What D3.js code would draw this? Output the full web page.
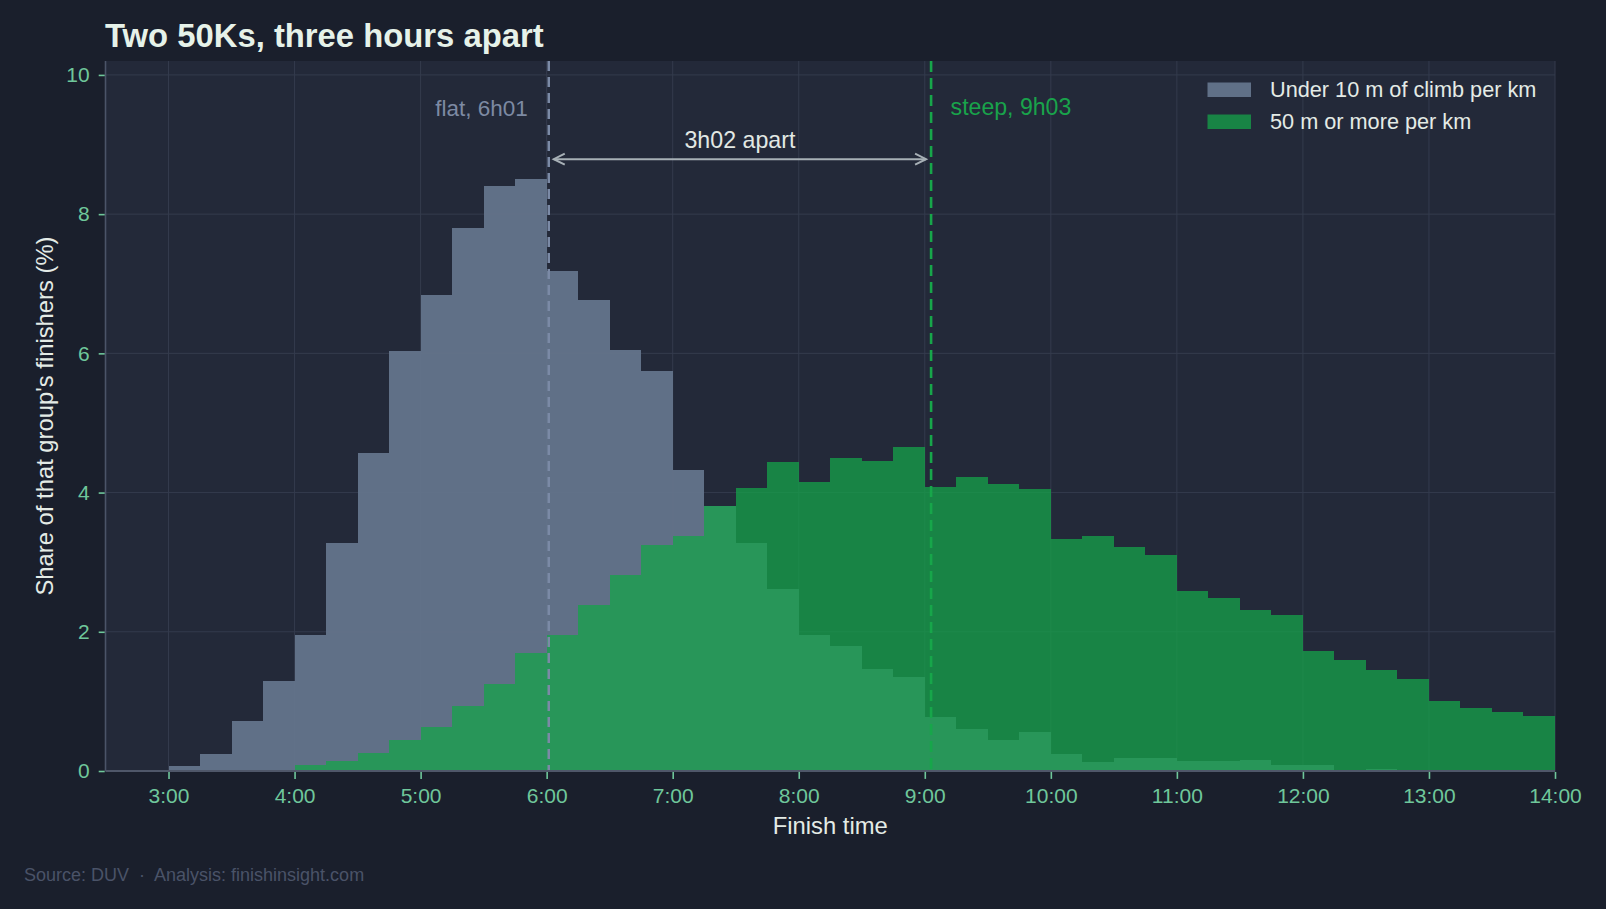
<!DOCTYPE html>
<html><head><meta charset="utf-8">
<script src="https://cdn.jsdelivr.net/npm/d3@7"></script>
<style>
html,body{margin:0;padding:0;background:#1a1f2c;}
svg{display:block;font-family:"Liberation Sans",Arial,Helvetica,sans-serif;}
</style></head><body>
<svg id="chart" width="1606" height="909"></svg>
<script>
// ---- data ----
const binStarts = ["3:00","3:15","3:30","3:45","4:00","4:15","4:30","4:45","5:00","5:15","5:30","5:45",
  "6:00","6:15","6:30","6:45","7:00","7:15","7:30","7:45","8:00","8:15","8:30","8:45",
  "9:00","9:15","9:30","9:45","10:00","10:15","10:30","10:45","11:00","11:15","11:30","11:45",
  "12:00","12:15","12:30","12:45","13:00","13:15","13:30","13:45"];
const flatShare = [0.07,0.25,0.72,1.29,1.96,3.27,4.57,6.04,6.84,7.80,8.41,8.51,
  7.18,6.77,6.05,5.74,4.32,3.81,3.28,2.62,1.96,1.79,1.47,1.35,
  0.77,0.61,0.44,0.56,0.25,0.13,0.19,0.18,0.15,0.15,0.16,0.09,
  0.09,0,0.03,0,0,0,0,0];
const steepShare = [0,0,0,0.02,0.08,0.14,0.26,0.45,0.63,0.93,1.25,1.70,
  1.96,2.38,2.81,3.25,3.38,3.81,4.07,4.44,4.15,4.49,4.45,4.65,
  4.08,4.22,4.12,4.05,3.34,3.38,3.22,3.10,2.59,2.49,2.31,2.24,
  1.72,1.59,1.45,1.32,1.01,0.91,0.85,0.79];
const xTickLabels = ["3:00","4:00","5:00","6:00","7:00","8:00","9:00","10:00","11:00","12:00","13:00","14:00"];
const yTicks = [0,2,4,6,8,10];
const seriesNames = ["Under 10 m of climb per km","50 m or more per km"];
const medians = ["6:01","9:03"];
const medianLabels = ["flat, 6h01","steep, 9h03"];
const gapLabel = "3h02 apart";
const gapLabelValue = 8.79;
const binHours = 0.25;

// ---- helpers ----
const toH = s => { const [h,m] = s.split(":").map(Number); return h + m/60; };

const W = 1606, H = 909;
const M = {left:105.5, right:1555, top:61, bottom:771};
const x = d3.scaleLinear().domain([2.5,14]).range([M.left, M.right]);
const y = d3.scaleLinear().domain([0,10.2]).range([M.bottom, M.top]);

const C = {
  bg:"#1a1f2c", plot:"#232939", grid:"#343b4d", tick:"#6fc79b",
  grey:"#64748b", green:"#16a34a", text:"#e4ebe6", flatLine:"#7b8aa6",
  steepLine:"#17a64a", arrow:"#a7b0b6", source:"#4a5368", spine:"#4b5468"
};

const svg = d3.select("#chart");
svg.append("rect").attr("width",W).attr("height",H).attr("fill",C.bg);
svg.append("rect").attr("x",M.left).attr("y",M.top)
  .attr("width",M.right-M.left).attr("height",M.bottom-M.top).attr("fill",C.plot);

// gridlines
const xt = xTickLabels.map(toH);
svg.append("g").selectAll("line").data(xt).join("line")
  .attr("x1",d=>x(d)).attr("x2",d=>x(d)).attr("y1",M.top).attr("y2",M.bottom)
  .attr("stroke",C.grid).attr("stroke-width",1);
svg.append("g").selectAll("line").data(yTicks).join("line")
  .attr("x1",M.left).attr("x2",M.right).attr("y1",d=>y(d)).attr("y2",d=>y(d))
  .attr("stroke",C.grid).attr("stroke-width",1);

// bars
const bins = binStarts.map((s,i)=>({s:toH(s), flat:flatShare[i], steep:steepShare[i]}));
const gBars = svg.append("g").attr("shape-rendering","crispEdges");
gBars.selectAll("rect.flat").data(bins.filter(d=>d.flat>0)).join("rect").attr("class","flat")
  .attr("x",d=>x(d.s)).attr("width",d=>x(d.s+binHours)-x(d.s))
  .attr("y",d=>y(d.flat)).attr("height",d=>y(0)-y(d.flat))
  .attr("fill",C.grey).attr("fill-opacity",0.95);
gBars.selectAll("rect.steep").data(bins.filter(d=>d.steep>0)).join("rect").attr("class","steep")
  .attr("x",d=>x(d.s)).attr("width",d=>x(d.s+binHours)-x(d.s))
  .attr("y",d=>y(d.steep)).attr("height",d=>y(0)-y(d.steep))
  .attr("fill",C.green).attr("fill-opacity",0.75);

// median lines
const mh = medians.map(toH);
svg.append("line").attr("x1",x(mh[0])).attr("x2",x(mh[0])).attr("y1",M.top).attr("y2",M.bottom)
  .attr("stroke",C.flatLine).attr("stroke-width",2.5).attr("stroke-dasharray","10,6");
svg.append("line").attr("x1",x(mh[1])).attr("x2",x(mh[1])).attr("y1",M.top).attr("y2",M.bottom)
  .attr("stroke",C.steepLine).attr("stroke-width",2.6).attr("stroke-dasharray","11,6");

svg.append("text").attr("x",x(mh[0])-21).attr("y",116).attr("text-anchor","end")
  .attr("font-size",22.5).attr("fill","#7d8aa3").text(medianLabels[0]);
svg.append("text").attr("x",x(mh[1])+19.5).attr("y",115).attr("text-anchor","start")
  .attr("font-size",23.1).attr("fill","#19a34b").text(medianLabels[1]);

// gap arrow
const ay = y(gapLabelValue);
const ax1 = x(mh[0])+5, ax2 = x(mh[1])-5;
const ga = svg.append("g").attr("stroke",C.arrow).attr("stroke-width",2).attr("fill","none");
ga.append("line").attr("x1",ax1).attr("x2",ax2).attr("y1",ay).attr("y2",ay);
ga.append("path").attr("d",`M${ax1+11},${ay-5.5}L${ax1},${ay}L${ax1+11},${ay+5.5}`);
ga.append("path").attr("d",`M${ax2-11},${ay-5.5}L${ax2},${ay}L${ax2-11},${ay+5.5}`);
svg.append("text").attr("x",(x(mh[0])+x(mh[1]))/2).attr("y",ay-11).attr("text-anchor","middle")
  .attr("font-size",23.2).attr("fill","#e2e8e4").text(gapLabel);

// axes spines
svg.append("line").attr("x1",M.left).attr("x2",M.left).attr("y1",M.top).attr("y2",M.bottom)
  .attr("stroke",C.spine).attr("stroke-width",1.6);
svg.append("line").attr("x1",M.left).attr("x2",M.right).attr("y1",M.bottom).attr("y2",M.bottom)
  .attr("stroke","#4f5769").attr("stroke-width",1.8);

// x axis
const xAxis = d3.axisBottom(x).tickValues(xt).tickFormat((d,i)=>xTickLabels[i]).tickSize(7).tickPadding(9);
const gx = svg.append("g").attr("transform",`translate(0,${M.bottom+0.9})`).call(xAxis);
gx.select(".domain").remove();
gx.selectAll(".tick line").attr("stroke",C.tick).attr("stroke-width",1.6);
gx.selectAll(".tick text").attr("fill",C.tick).attr("font-size",21).attr("font-family","Liberation Sans, Arial, sans-serif");

// y axis
const yAxis = d3.axisLeft(y).tickValues(yTicks).tickSize(6).tickPadding(9);
const gy = svg.append("g").attr("transform",`translate(${M.left-0.8},0)`).call(yAxis);
gy.select(".domain").remove();
gy.selectAll(".tick line").attr("stroke",C.tick).attr("stroke-width",1.6);
gy.selectAll(".tick text").attr("fill",C.tick).attr("font-size",21).attr("font-family","Liberation Sans, Arial, sans-serif");

// axis labels
svg.append("text").attr("x",(M.left+M.right)/2).attr("y",834).attr("text-anchor","middle")
  .attr("font-size",23.8).attr("fill",C.text).text("Finish time");
svg.append("text").attr("transform",`translate(53,${(M.top+M.bottom)/2}) rotate(-90)`)
  .attr("text-anchor","middle").attr("font-size",23.8).attr("fill",C.text)
  .text("Share of that group's finishers (%)");

// title
svg.append("text").attr("x",M.left-0.5).attr("y",47).attr("font-size",32.8).attr("font-weight","bold")
  .attr("fill","#e6f2e9").text("Two 50Ks, three hours apart");

// legend
const leg = svg.append("g");
const legColors = [C.grey, C.green];
const legOp = [0.95, 0.75];
seriesNames.forEach((n,i)=>{
  const yy = 82.5 + i*32;
  leg.append("rect").attr("x",1207.5).attr("y",yy).attr("width",43.5).attr("height",14.5)
    .attr("fill",legColors[i]).attr("fill-opacity",legOp[i]);
  leg.append("text").attr("x",1270).attr("y",yy+14.5).attr("font-size",21.7)
    .attr("fill",C.text).text(n);
});

// source
svg.append("text").attr("x",24).attr("y",881).attr("font-size",18).attr("fill",C.source)
  .attr("xml:space","preserve").style("white-space","pre")
  .text("Source: DUV  \u00b7  Analysis: finishinsight.com");
</script>
</body></html>
